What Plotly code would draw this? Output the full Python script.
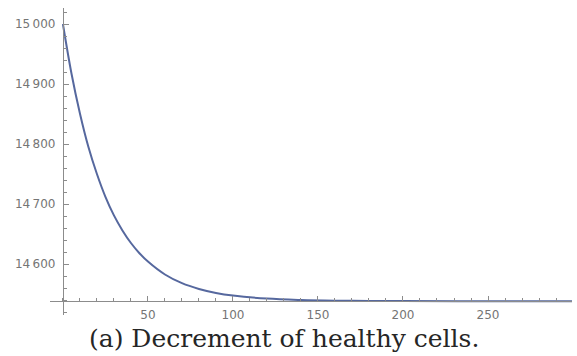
import plotly.graph_objects as go

# Data (time vs healthy cells)
t_vals = [0, 5, 10, 15, 20, 25, 30, 35, 40, 45, 50, 60, 70, 80, 90, 100,
          120, 140, 160, 180, 200, 250, 300]
cells = [15000, 14918, 14851, 14795, 14750, 14712, 14681, 14656, 14635, 14618,
         14604, 14582.5, 14568, 14558.4, 14551.8, 14547.4,
         14542.3, 14540.0, 14538.9, 14538.4, 14538.2, 14538.0, 14538.0]

x_tick_vals = [50, 100, 150, 200, 250]
x_tick_text = ["50", "100", "150", "200", "250"]
y_tick_vals = [14600, 14700, 14800, 14900, 15000]
y_tick_text = ["14\u2009600", "14\u2009700", "14\u2009800", "14\u2009900", "15\u2009000"]

caption = "(a) Decrement of healthy cells."

x_range = [-7.6, 299.4]
y_range = [14515, 15026.7]
axis_origin_y = 14538

fig = go.Figure()
fig.add_trace(go.Scatter(x=t_vals, y=cells, mode="lines",
                         line=dict(color="#56689e", width=2, shape="spline"),
                         hoverinfo="skip", showlegend=False))

axis_color = "#8c8c8c"
tick_font = dict(family="DejaVu Sans", size=12, color="#757575")

fig.update_layout(
    width=577, height=356,
    margin=dict(l=50, r=5, t=8, b=41, autoexpand=False),
    plot_bgcolor="white", paper_bgcolor="white",
    xaxis=dict(range=x_range, showgrid=False, zeroline=False, automargin=False,
               showline=True, linecolor=axis_color, linewidth=1,
               anchor="free",
               position=(axis_origin_y - y_range[0]) / (y_range[1] - y_range[0]),
               tickmode="array", tickvals=x_tick_vals, ticktext=x_tick_text,
               ticks="inside", ticklen=5, tickcolor=axis_color,
               minor=dict(dtick=10, tick0=0, ticks="inside", ticklen=3,
                          tickcolor=axis_color, showgrid=False),
               ticklabelstandoff=2,
               tickfont=tick_font),
    yaxis=dict(range=y_range, showgrid=False, zeroline=False, automargin=False,
               showline=True, linecolor=axis_color, linewidth=1,
               anchor="free",
               position=(0 - x_range[0]) / (x_range[1] - x_range[0]),
               tickmode="array", tickvals=y_tick_vals, ticktext=y_tick_text,
               ticks="inside", ticklen=5, tickcolor=axis_color,
               minor=dict(dtick=20, tick0=14500, ticks="inside", ticklen=3,
                          tickcolor=axis_color, showgrid=False),
               ticklabelstandoff=5,
               tickfont=tick_font),
    annotations=[dict(text=caption, xref="paper", yref="paper",
                      x=(284 - 50) / 522, y=-0.13, xanchor="center", yanchor="bottom",
                      showarrow=False,
                      font=dict(family="DejaVu Serif", size=25, color="#262626"))],
)

fig.write_html("out.html", config={"displayModeBar": False},
               post_script="document.body.style.margin='0';")
